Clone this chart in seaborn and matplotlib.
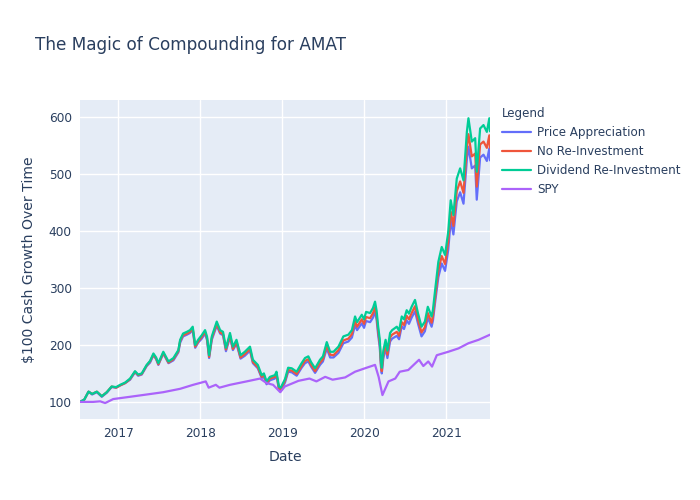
import matplotlib
matplotlib.use("Agg")
import matplotlib.pyplot as plt
import seaborn as sns
import pandas as pd
import matplotlib.dates as mdates

# ---------------- data ----------------
amat_dates = [
    "2016-07-15", "2016-08-03", "2016-08-22", "2016-09-07", "2016-09-28", "2016-10-20",
    "2016-11-11", "2016-12-03", "2016-12-23", "2017-01-10", "2017-02-01", "2017-02-23",
    "2017-03-17", "2017-03-31", "2017-04-16", "2017-05-08", "2017-05-23", "2017-06-07",
    "2017-06-19", "2017-06-29", "2017-07-21", "2017-08-13", "2017-09-04", "2017-09-26",
    "2017-10-04", "2017-10-17", "2017-11-03", "2017-11-17", "2017-11-29", "2017-12-10",
    "2017-12-23", "2018-01-08", "2018-01-23", "2018-02-01", "2018-02-10", "2018-02-22",
    "2018-03-16", "2018-03-31", "2018-04-13", "2018-04-26", "2018-05-14", "2018-05-27",
    "2018-06-12", "2018-06-30", "2018-07-19", "2018-08-11", "2018-08-24", "2018-09-15",
    "2018-10-02", "2018-10-12", "2018-10-24", "2018-11-08", "2018-11-30", "2018-12-07",
    "2018-12-18", "2018-12-26", "2019-01-14", "2019-01-28", "2019-02-13", "2019-03-07",
    "2019-03-29", "2019-04-13", "2019-04-28", "2019-05-10", "2019-05-28", "2019-06-19",
    "2019-07-02", "2019-07-19", "2019-08-03", "2019-08-18", "2019-09-09", "2019-10-01",
    "2019-10-23", "2019-11-08", "2019-11-22", "2019-12-01", "2019-12-22", "2020-01-01",
    "2020-01-10", "2020-01-28", "2020-02-10", "2020-02-19", "2020-02-26", "2020-03-04",
    "2020-03-11", "2020-03-16", "2020-03-20", "2020-03-27", "2020-04-06", "2020-04-14",
    "2020-04-26", "2020-05-05", "2020-05-26", "2020-06-05", "2020-06-17", "2020-06-27",
    "2020-07-09", "2020-07-19", "2020-07-31", "2020-08-15", "2020-08-28", "2020-09-13",
    "2020-09-28", "2020-10-11", "2020-10-28", "2020-11-03", "2020-11-12", "2020-11-27",
    "2020-12-12", "2020-12-27", "2021-01-10", "2021-01-21", "2021-02-02", "2021-02-17",
    "2021-03-04", "2021-03-19", "2021-04-03", "2021-04-10", "2021-04-25", "2021-05-10",
    "2021-05-17", "2021-06-01", "2021-06-16", "2021-07-01", "2021-07-12", "2021-07-15",
]

dividend_reinvestment = [
    100, 104, 118, 114, 118, 110, 117, 127, 126, 130, 134, 141,
    154, 148, 150, 165, 172, 185, 178, 168, 188, 171, 177, 191,
    209, 220, 223, 226, 232, 200, 209, 217, 226, 214, 182, 215,
    241, 226, 223, 195, 221, 197, 209, 182, 188, 197, 174, 165,
    147, 150, 136, 144, 147, 153, 127, 125, 140, 160, 159, 153,
    168, 177, 180, 170, 159, 174, 180, 205, 188, 188, 197, 215,
    218, 226, 250, 240, 253, 245, 258, 256, 265, 276, 260, 232,
    210, 174, 160, 190, 209, 190, 221, 226, 232, 225, 250, 245,
    261, 255, 267, 279, 256, 232, 241, 267, 250, 262, 294, 346,
    372, 358, 399, 454, 428, 492, 510, 489, 574, 598, 557, 563,
    504, 580, 586, 574, 598, 575,
]

no_reinvestment = [
    100, 104, 118, 114, 118, 110, 117, 127, 125, 129, 133, 140,
    153, 147, 149, 164, 171, 183, 176, 166, 186, 169, 175, 189,
    207, 217, 220, 223, 229, 197, 206, 214, 223, 211, 179, 212,
    237, 222, 219, 192, 217, 193, 205, 178, 184, 193, 170, 161,
    144, 147, 133, 141, 144, 149, 124, 122, 137, 156, 155, 149,
    163, 172, 175, 165, 154, 169, 175, 199, 183, 182, 191, 208,
    211, 219, 242, 232, 245, 237, 249, 247, 256, 266, 251, 224,
    203, 168, 154, 183, 201, 183, 213, 218, 223, 216, 240, 235,
    251, 245, 256, 268, 245, 222, 231, 256, 239, 251, 281, 331,
    356, 342, 382, 434, 409, 470, 487, 467, 547, 570, 531, 536,
    478, 552, 557, 546, 568, 546,
]

price_appreciation = [
    100, 104, 118, 113, 117, 109, 116, 126, 125, 129, 133, 139,
    152, 146, 148, 163, 169, 182, 175, 165, 185, 168, 173, 187,
    204, 215, 218, 221, 226, 195, 204, 211, 220, 208, 177, 209,
    234, 220, 217, 189, 214, 191, 202, 176, 181, 190, 168, 159,
    142, 144, 131, 138, 141, 147, 121, 119, 134, 153, 152, 146,
    160, 168, 171, 162, 151, 165, 171, 194, 178, 178, 186, 203,
    206, 213, 235, 226, 238, 230, 242, 240, 248, 259, 244, 217,
    196, 163, 150, 177, 195, 177, 206, 211, 216, 210, 233, 228,
    243, 237, 248, 259, 238, 215, 224, 248, 232, 243, 273, 319,
    343, 330, 367, 418, 394, 452, 468, 448, 526, 548, 510, 515,
    455, 529, 534, 523, 545, 524,
]

spy_dates = [
    "2016-07-15", "2016-09-11", "2016-10-13", "2016-11-04", "2016-12-10", "2017-02-23",
    "2017-05-08", "2017-07-20", "2017-10-04", "2017-12-01", "2018-01-26", "2018-02-08",
    "2018-03-12", "2018-03-28", "2018-05-14", "2018-07-27", "2018-09-25", "2018-10-24",
    "2018-11-22", "2018-12-24", "2019-01-13", "2019-03-15", "2019-05-03", "2019-06-03",
    "2019-07-12", "2019-08-14", "2019-10-09", "2019-11-22", "2020-01-05", "2020-02-19",
    "2020-03-06", "2020-03-23", "2020-04-19", "2020-05-19", "2020-06-08", "2020-07-16",
    "2020-09-02", "2020-09-21", "2020-10-13", "2020-10-30", "2020-11-20", "2021-01-10",
    "2021-02-25", "2021-04-10", "2021-05-25", "2021-07-15",
]
spy = [
    100, 100, 101, 98, 105, 109,
    113, 117, 123, 130, 136, 125,
    130, 125, 130, 136, 141, 133,
    130, 117, 127, 137, 141, 136,
    144, 139, 143, 153, 159, 165,
    144, 112, 136, 141, 153, 156,
    174, 163, 171, 162, 182, 188,
    194, 203, 209, 218,
]

series_names = ["Price Appreciation", "No Re-Investment", "Dividend Re-Investment", "SPY"]
palette = ["#636EFA", "#EF553B", "#00CC96", "#AB63FA"]

# ---------------- build long table ----------------
frames = []
for name, vals in zip(series_names[:3], [price_appreciation, no_reinvestment, dividend_reinvestment]):
    frames.append(pd.DataFrame({"Date": pd.to_datetime(amat_dates), "Value": vals, "Legend": name}))
frames.append(pd.DataFrame({"Date": pd.to_datetime(spy_dates), "Value": spy, "Legend": "SPY"}))
df = pd.concat(frames, ignore_index=True)

# ---------------- styling ----------------
sns.set_theme(style="darkgrid", rc={
    "axes.facecolor": "#E5ECF6",
    "figure.facecolor": "white",
    "grid.color": "white",
    "grid.linewidth": 1.0,
    "axes.edgecolor": "#E5ECF6",
})
plt.rcParams["font.family"] = ["DejaVu Sans"]
text_color = "#2a3f5f"

fig = plt.figure(figsize=(7, 5), dpi=100)
ax = fig.add_axes([80 / 700, 1 - 419 / 500, 410 / 700, 319 / 500])

sns.lineplot(data=df, x="Date", y="Value", hue="Legend", hue_order=series_names,
             palette=palette, linewidth=1.6, ax=ax, legend=True, estimator=None, sort=False)

for s in ax.spines.values():
    s.set_visible(False)

ax.set_xlim(pd.Timestamp("2016-07-15"), pd.Timestamp("2021-07-15"))
ax.set_ylim(70, 630)
ax.set_yticks([100, 200, 300, 400, 500, 600])
ax.xaxis.set_major_locator(mdates.YearLocator())
ax.xaxis.set_major_formatter(mdates.DateFormatter("%Y"))
ax.tick_params(axis="both", colors=text_color, labelsize=8.7, length=0, pad=6)

ax.set_xlabel("Date", fontsize=10.1, color=text_color, labelpad=7)
ax.set_ylabel(r"\$100 Cash Growth Over Time", fontsize=10.1, color=text_color, labelpad=9)

fig.text(35 / 700, 1 - 45 / 500, "The Magic of Compounding for AMAT", fontsize=12.2,
         color=text_color, va="center", ha="left")

handles, labels = ax.get_legend_handles_labels()
if ax.legend_:
    ax.legend_.remove()
for h in handles:
    h.set_linewidth(1.6)
leg = fig.legend(handles, labels, title="Legend", loc="upper left",
                 bbox_to_anchor=(502 / 700, 1 - 106.5 / 500), frameon=False,
                 fontsize=8.6, title_fontsize=8.6, handlelength=2.4, handletextpad=0.55,
                 labelspacing=0.52, borderpad=0, borderaxespad=0)
leg._legend_box.align = "left"
for t in leg.get_texts():
    t.set_color(text_color)
leg.get_title().set_color(text_color)

fig.savefig("out.png", dpi=100)
